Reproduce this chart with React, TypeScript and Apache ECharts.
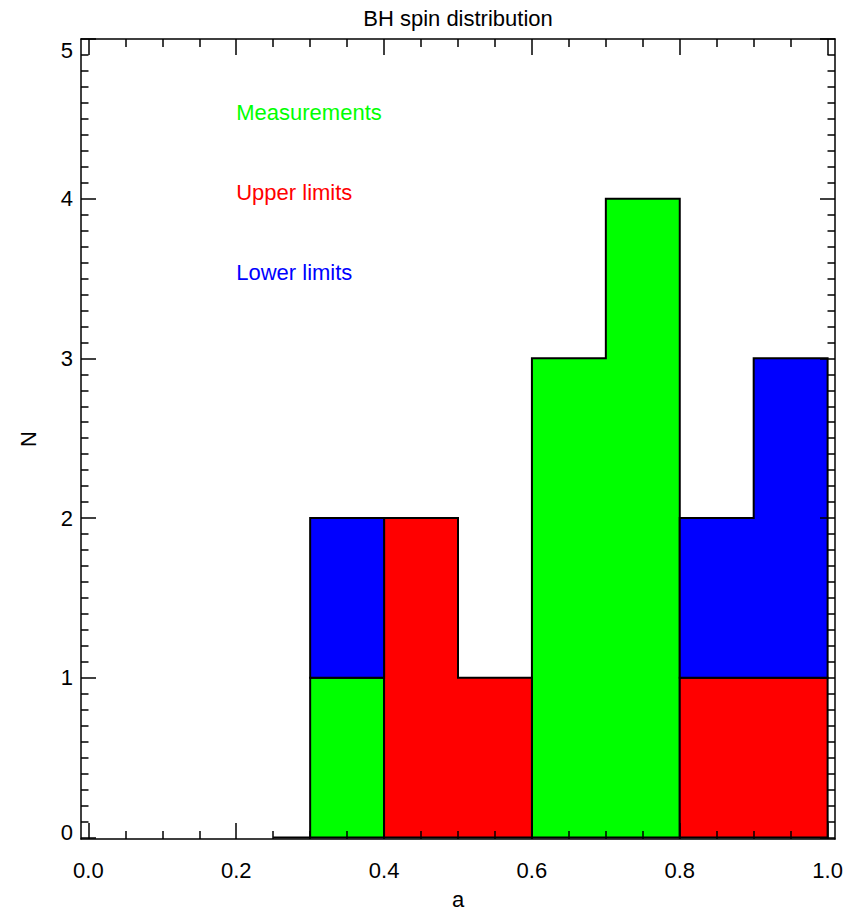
import React, { useEffect, useRef } from "react";
import * as echarts from "echarts";

// ---- data ----
const binEdges = [0.3, 0.4, 0.5, 0.6, 0.7, 0.8, 0.9, 1.0];
const measurements = [1, 0, 0, 3, 4, 0, 0];
const upperLimits = [0, 2, 1, 0, 0, 1, 1];
const lowerLimits = [1, 0, 0, 0, 0, 1, 2];
const layerNames = ["Measurements", "Upper limits", "Lower limits"];
const layerColors = ["#00ff00", "#ff0000", "#0000ff"];
const labelX = [0.2, 0.2, 0.2];
const labelY = [4.5, 4.0, 3.5];
const baselineStub = [
  [0.25, 0],
  [0.3, 0],
];
const xMajorTicks = [0.0, 0.2, 0.4, 0.6, 0.8, 1.0];
const xMinorTicks = [0.05, 0.1, 0.15, 0.25, 0.3, 0.35, 0.45, 0.5, 0.55, 0.65, 0.7, 0.75, 0.85, 0.9, 0.95];
const yMajorTicks = [0, 1, 2, 3, 4, 5];
const yMinorStep = 0.1;
const titleText = "BH spin distribution";
const xName = "a";
const yName = "N";

const FONT = "Liberation Sans";
const FS = 22;

function buildPolygons() {
  const layers = [measurements, upperLimits, lowerLimits];
  const cum = measurements.map(() => 0);
  const polys: { layer: number; pts: number[][] }[] = [];
  layers.forEach((vals, li) => {
    let i = 0;
    while (i < vals.length) {
      if (vals[i] > 0) {
        let j = i;
        while (j + 1 < vals.length && vals[j + 1] > 0) j++;
        const pts: number[][] = [];
        for (let k = i; k <= j; k++) {
          pts.push([binEdges[k], cum[k]]);
          pts.push([binEdges[k + 1], cum[k]]);
        }
        for (let k = j; k >= i; k--) {
          pts.push([binEdges[k + 1], cum[k] + vals[k]]);
          pts.push([binEdges[k], cum[k] + vals[k]]);
        }
        polys.push({ layer: li, pts });
        i = j + 1;
      } else i++;
    }
    vals.forEach((v, k) => (cum[k] += v));
  });
  return polys;
}

function yMinorTicks() {
  const out: number[] = [];
  for (let k = 1; k < 50; k++) {
    if (k % 10 !== 0) out.push(Math.round(k * yMinorStep * 10) / 10);
  }
  return out;
}

export default function App() {
  const ref = useRef<HTMLDivElement>(null);
  useEffect(() => {
    document.body.style.margin = "0";
    const chart = echarts.init(ref.current!, null, { renderer: "svg" });
    const polys = buildPolygons();
    const X_MIN = -0.01, X_MAX = 1.01, Y_MIN = -0.01, Y_MAX = 5;
    const tickStyle = { color: "#000", width: 1.5 };
    const lineOn = { show: true, onZero: false, lineStyle: { color: "#000", width: 1.5 } };
    const lineOff = { show: false, onZero: false };
    const baseX = {
      type: "value",
      min: X_MIN,
      max: X_MAX,
      splitLine: { show: false },
      z: 5,
    };
    const baseY = {
      type: "value",
      min: Y_MIN,
      max: Y_MAX,
      splitLine: { show: false },
      z: 5,
    };
    const option: any = {
      animation: false,
      backgroundColor: "#fff",
      grid: { left: 81, top: 39, right: 19, bottom: 75, containLabel: false, outerBoundsMode: "none" },
      graphic: [
        {
          type: "text",
          x: 458,
          y: 18,
          style: {
            text: titleText,
            fill: "#000",
            font: `${FS}px "${FONT}"`,
            textAlign: "center",
            textVerticalAlign: "middle",
          },
        },
      ],
      xAxis: [
        {
          ...baseX,
          position: "bottom",
          name: xName,
          nameLocation: "middle",
          nameGap: 53,
          nameTextStyle: { color: "#000", fontSize: FS, fontFamily: FONT, lineHeight: 15 },
          axisLine: lineOn,
          axisTick: { show: true, inside: true, length: 16, lineStyle: tickStyle, customValues: xMajorTicks },
          axisLabel: {
            show: true,
            customValues: xMajorTicks,
            formatter: (v: number) => v.toFixed(1),
            color: "#000",
            fontSize: FS,
            fontFamily: FONT,
            margin: 20,
          },
        },
        {
          ...baseX,
          position: "bottom",
          axisLine: lineOff,
          axisTick: { show: true, inside: true, length: 8, lineStyle: tickStyle, customValues: xMinorTicks },
          axisLabel: { show: false },
        },
        {
          ...baseX,
          position: "top",
          axisLine: lineOn,
          axisTick: { show: true, inside: true, length: 16, lineStyle: tickStyle, customValues: xMajorTicks },
          axisLabel: { show: false },
        },
        {
          ...baseX,
          position: "top",
          axisLine: lineOff,
          axisTick: { show: true, inside: true, length: 8, lineStyle: tickStyle, customValues: xMinorTicks },
          axisLabel: { show: false },
        },
      ],
      yAxis: [
        {
          ...baseY,
          position: "left",
          name: yName,
          nameLocation: "middle",
          nameRotate: 90,
          nameGap: 42,
          nameTextStyle: { color: "#000", fontSize: FS, fontFamily: FONT },
          axisLine: lineOn,
          axisTick: { show: true, inside: true, length: 15, lineStyle: tickStyle, customValues: yMajorTicks },
          axisLabel: {
            show: true,
            customValues: yMajorTicks,
            color: "#000",
            fontSize: FS,
            fontFamily: FONT,
            margin: 8,
            formatter: (v: number) =>
              v === 5 ? `{top|${v}}` : v === 0 ? `{bot|${v}}` : `${v}`,
            rich: {
              top: { padding: [22, 0, 0, 0], fontSize: FS, fontFamily: FONT, color: "#000" },
              bot: { padding: [0, 0, 9, 0], fontSize: FS, fontFamily: FONT, color: "#000" },
            },
          },
        },
        {
          ...baseY,
          position: "left",
          axisLine: lineOff,
          axisTick: { show: true, inside: true, length: 7.5, lineStyle: tickStyle, customValues: yMinorTicks() },
          axisLabel: { show: false },
        },
        {
          ...baseY,
          position: "right",
          axisLine: lineOn,
          axisTick: { show: true, inside: true, length: 15, lineStyle: tickStyle, customValues: yMajorTicks },
          axisLabel: { show: false },
        },
        {
          ...baseY,
          position: "right",
          axisLine: lineOff,
          axisTick: { show: true, inside: true, length: 7.5, lineStyle: tickStyle, customValues: yMinorTicks() },
          axisLabel: { show: false },
        },
      ],
      series: [
        {
          type: "custom",
          xAxisIndex: 0,
          yAxisIndex: 0,
          z: 2,
          data: polys.map((p) => p.pts[0]),
          renderItem: (params: any, api: any) => {
            const poly = polys[params.dataIndex];
            return {
              type: "polygon",
              shape: { points: poly.pts.map((pt) => api.coord(pt)) },
              style: { fill: layerColors[poly.layer], stroke: "#000", lineWidth: 2 },
            };
          },
        },
        {
          type: "line",
          xAxisIndex: 0,
          yAxisIndex: 0,
          z: 2,
          data: baselineStub,
          symbol: "none",
          lineStyle: { color: "#000", width: 2 },
        },
        {
          type: "custom",
          xAxisIndex: 0,
          yAxisIndex: 0,
          z: 3,
          data: layerNames.map((_, i) => [labelX[i], labelY[i]]),
          renderItem: (params: any, api: any) => {
            const i = params.dataIndex;
            const pt = api.coord([labelX[i], labelY[i]]);
            return {
              type: "text",
              x: pt[0],
              y: pt[1] + 5,
              style: {
                text: layerNames[i],
                fill: layerColors[i],
                font: `${FS}px "${FONT}"`,
                textAlign: "left",
                textVerticalAlign: "bottom",
              },
            };
          },
        },
      ],
    };
    chart.setOption(option);
    return () => chart.dispose();
  }, []);
  return <div ref={ref} style={{ position: "fixed", left: 0, top: 0, width: 854, height: 914 }} />;
}
